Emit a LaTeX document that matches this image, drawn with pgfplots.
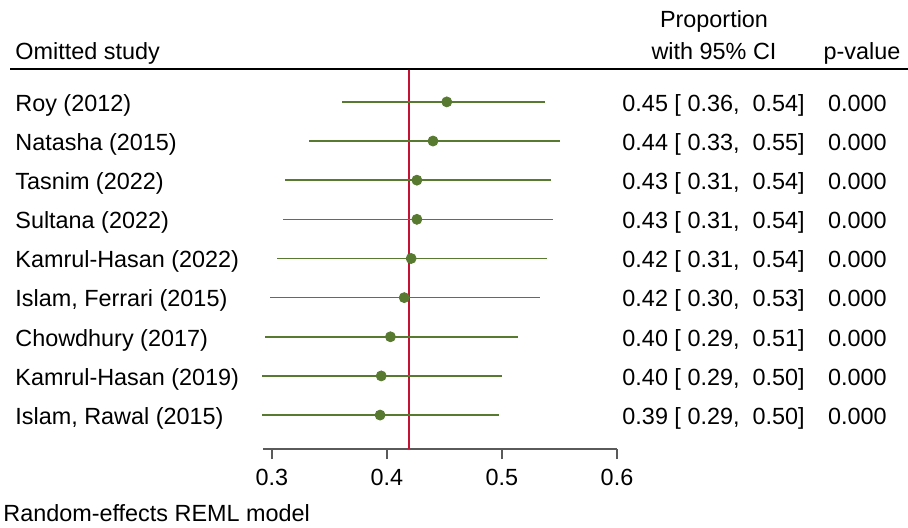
\documentclass[border=0pt]{standalone}
\usepackage{fontspec}
\setmainfont{Liberation Sans}
\usepackage{pgfplots}
\pgfplotsset{compat=1.18}
\usepackage{pgfplotstable}
\definecolor{fgreen}{RGB}{88,122,48}
\definecolor{fred}{RGB}{196,18,52}
\definecolor{axgray}{RGB}{90,90,90}
\pgfplotstableread{
row est lo hi
9 0.452 0.361 0.537
8 0.440 0.332 0.550
7 0.426 0.311 0.543
6 0.426 0.310 0.544
5 0.421 0.304 0.539
4 0.415 0.298 0.533
3 0.403 0.294 0.514
2 0.395 0.291 0.500
1 0.394 0.291 0.497
}\loo
\begin{document}
\begin{tikzpicture}[font=\fontsize{11.7}{14}\selectfont]
\begin{axis}[at={(131.5pt,-224.5pt)}, anchor=south west, scale only axis,
  width=177pt, height=190pt,
  xmin=0.2922, xmax=0.6, ymin=0.133, ymax=9.84,
  axis x line=bottom, axis y line=none,
  x axis line style={-, draw=axgray, line width=1pt},
  xtick={0.3,0.4,0.5,0.6}, ytick=\empty,
  tick align=outside, major tick length=5pt,
  tick style={draw=axgray, line width=1pt},
  xticklabel style={font=\fontsize{11.7}{14}\selectfont, yshift=-1.5pt,
    /pgf/number format/assume math mode=true,
    /pgf/number format/fixed, /pgf/number format/fixed zerofill,
    /pgf/number format/precision=1},
  clip=false]
\addplot[fred, line width=0.75pt] coordinates {(0.419,0.133) (0.419,9.84)};
\addplot[fgreen, only marks, mark=*, mark size=2.5pt,
  error bars/.cd, x dir=both, x explicit, error mark=none,
  error bar style={fgreen, line width=0.8pt}]
  table[x=est, y=row,
    x error plus expr=\thisrow{hi}-\thisrow{est},
    x error minus expr=\thisrow{est}-\thisrow{lo}] {\loo};
\end{axis}
\begin{scope}[x=0.5pt, y=-0.5pt]
\useasboundingbox (0,0) rectangle (908,527);
\draw[black, line width=1pt] (10,69) -- (908,69);
\node[anchor=base west, inner sep=0pt] at (15,59) {Omitted study};
\node[anchor=base, inner sep=0pt] at (714,27) {Proportion};
\node[anchor=base, inner sep=0pt] at (714,59) {with 95\% CI};
\node[anchor=base, inner sep=0pt] at (862,59) {p-value};
\node[anchor=base west, inner sep=0pt] at (3,521) {Random-effects REML model};
\foreach \y/\name/\ci in {
  111/Roy (2012)/{0.45 [\ 0.36,\ \ 0.54]},
  150/Natasha (2015)/{0.44 [\ 0.33,\ \ 0.55]},
  189/Tasnim (2022)/{0.43 [\ 0.31,\ \ 0.54]},
  228.5/Sultana (2022)/{0.43 [\ 0.31,\ \ 0.54]},
  267.5/Kamrul-Hasan (2022)/{0.42 [\ 0.31,\ \ 0.54]},
  306.5/{Islam, Ferrari (2015)}/{0.42 [\ 0.30,\ \ 0.53]},
  346/Chowdhury (2017)/{0.40 [\ 0.29,\ \ 0.51]},
  385/Kamrul-Hasan (2019)/{0.40 [\ 0.29,\ \ 0.50]},
  424/{Islam, Rawal (2015)}/{0.39 [\ 0.29,\ \ 0.50]}}{
  \node[anchor=base west, inner sep=0pt] at (15,\y) {\name};
  \node[anchor=base east, inner sep=0pt] at (805,\y) {\ci};
  \node[anchor=base east, inner sep=0pt] at (887,\y) {0.000};
}
\end{scope}
\end{tikzpicture}
\end{document}
